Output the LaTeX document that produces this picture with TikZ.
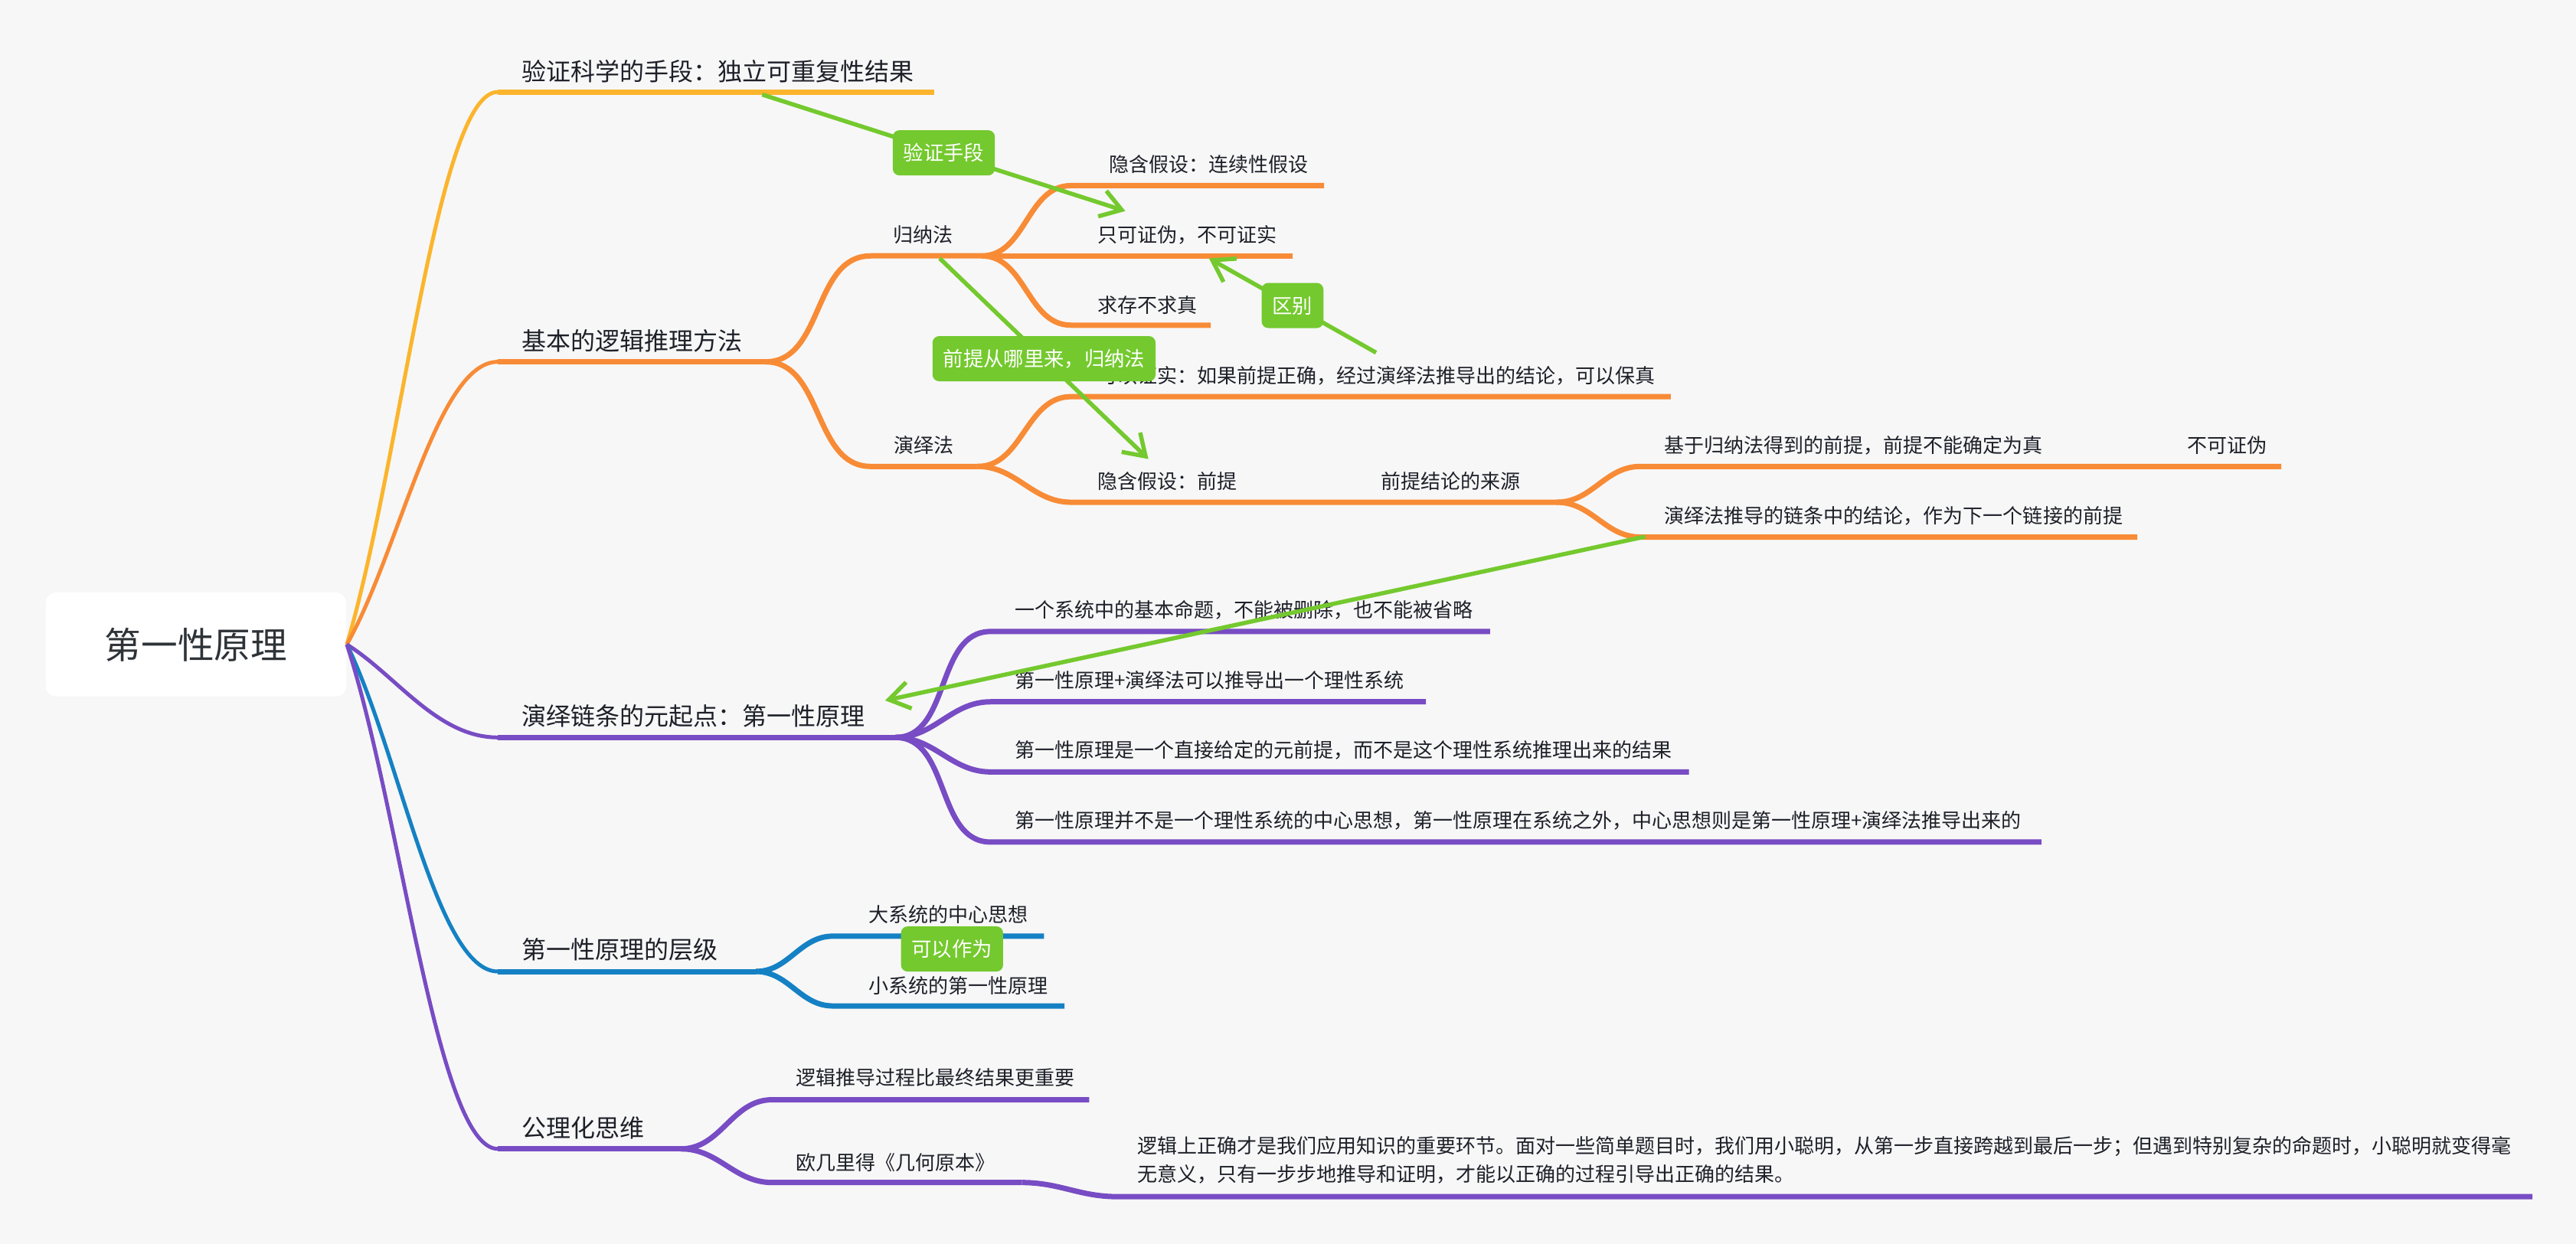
\documentclass[tikz,border=0pt]{standalone}
\usepackage{fontspec}
\setmainfont{Noto Sans CJK SC}
\usetikzlibrary{arrows.meta}
\definecolor{bg}{HTML}{F7F7F7}
\definecolor{cyel}{HTML}{FBB52D}
\definecolor{cora}{HTML}{F88B36}
\definecolor{cpur}{HTML}{784CC4}
\definecolor{cblu}{HTML}{1581C4}
\definecolor{cgrn}{HTML}{74C92E}
\definecolor{ctxt}{HTML}{1E2029}
\definecolor{croot}{HTML}{2E3338}
\newcommand\fsmall{\fontsize{7.8pt}{11pt}\selectfont}
\newcommand\fmainsz{\fontsize{9.6pt}{12pt}\selectfont}
\newcommand\frootsz{\fontsize{14.3pt}{17pt}\selectfont}
\newcommand\flbl{\fontsize{7.9pt}{10pt}\selectfont}
\begin{document}
\begin{tikzpicture}[x=0.64362pt,y=-0.64362pt,
  sm/.style={anchor=west, inner sep=0pt, text height=6.86pt, text depth=0.94pt, text=ctxt, font=\fsmall},
  mn/.style={anchor=west, inner sep=0pt, text height=8.45pt, text depth=1.15pt, text=ctxt, font=\fmainsz},
  br/.style={line width=1.5pt},
  ul/.style={line width=2.1pt},
  rel/.style={cgrn, line width=1.65pt, -{Straight Barb[length=8pt,width=10.5pt]}},
  lbl/.style={fill=cgrn, text=white, rounded corners=2.6pt, inner xsep=4.2pt, inner ysep=0pt,
              minimum height=17.7pt, text height=6.95pt, text depth=0.95pt, font=\flbl},
  sub/.style={out=0,in=180}]
\fill[bg] (0,0) rectangle (1568,757.43);
\useasboundingbox (0,0) rectangle (1568,757.43);

% root
\node[fill=white, rounded corners=4pt, minimum width=117.8pt, minimum height=40.6pt, inner sep=0pt,
      font=\frootsz, text=croot, text height=12.6pt, text depth=1.7pt] (root) at (119.3,392.4) {第一性原理};

% underline coordinates
\coordinate (b1s) at (303,56);     \coordinate (b1e) at (568.7,56);
\coordinate (b2s) at (303,220.3);  \coordinate (b2e) at (466,220.3);
\coordinate (b3s) at (303,449);    \coordinate (b3e) at (545,449);
\coordinate (b4s) at (303,591.5);  \coordinate (b4e) at (460,591.5);
\coordinate (b5s) at (303,699.5);  \coordinate (b5e) at (414.5,699.5);
\coordinate (c1s) at (530,155.8);  \coordinate (c1e) at (597.5,155.8);
\coordinate (c2s) at (530,284);    \coordinate (c2e) at (595,284);
\coordinate (g1s) at (652,113);    \coordinate (g1e) at (806,113);
\coordinate (g2e) at (787,155.8);
\coordinate (g3s) at (652,198);    \coordinate (g3e) at (737,198);
\coordinate (d1s) at (652,241.5);  \coordinate (d1e) at (1017,241.5);
\coordinate (d2s) at (652,305.8);  \coordinate (d2e) at (823,305.8);
\coordinate (d3e) at (947.6,305.8);
\coordinate (e1s) at (998.5,284);  \coordinate (e1e) at (1253,284);
\coordinate (e3e) at (1388.6,284);
\coordinate (e2s) at (998.5,327);  \coordinate (e2e) at (1301,327);
\coordinate (p1s) at (603,384.5);  \coordinate (p1e) at (907,384.5);
\coordinate (p2s) at (603,427.3);  \coordinate (p2e) at (868,427.3);
\coordinate (p3s) at (603,470);    \coordinate (p3e) at (1028,470);
\coordinate (p4s) at (603,512.7);  \coordinate (p4e) at (1242.6,512.7);
\coordinate (l1s) at (507,570);    \coordinate (l1e) at (635.5,570);
\coordinate (l2s) at (507,612.5);  \coordinate (l2e) at (648,612.5);
\coordinate (a1s) at (470,669.6);  \coordinate (a1e) at (663,669.6);
\coordinate (a2s) at (470,720);    \coordinate (a2e) at (622,720);
\coordinate (a3s) at (680,728.6);  \coordinate (a3e) at (1541.5,728.6);

% root branches
\draw[cyel,br] (root.east) .. controls +(33,-111) and +(-37,0) .. (b1s);
\draw[cyel,ul] (b1s) -- (b1e);
\draw[cora,br] (root.east) .. controls +(32,-56.8) and +(-37,0) .. (b2s);
\draw[cora,ul] (b2s) -- (b2e);
\draw[cpur,br] (root.east) .. controls +(30,18.7) and +(-37,0) .. (b3s);
\draw[cpur,ul] (b3s) -- (b3e);
\draw[cblu,br] (root.east) .. controls +(32,65.7) and +(-37,0) .. (b4s);
\draw[cblu,ul] (b4s) -- (b4e);
\draw[cpur,br] (root.east) .. controls +(33,101.3) and +(-37,0) .. (b5s);
\draw[cpur,ul] (b5s) -- (b5e);

% orange sub-branches
\draw[cora,ul] (b2e) to[sub] (c1s) -- (c1e);
\draw[cora,ul] (b2e) to[sub] (c2s) -- (c2e);
\draw[cora,ul] (c1e) to[sub] (g1s) -- (g1e);
\draw[cora,ul] (c1e) -- (g2e);
\draw[cora,ul] (c1e) to[sub] (g3s) -- (g3e);
\draw[cora,ul] (c2e) to[sub] (d1s) -- (d1e);
\draw[cora,ul] (c2e) to[sub] (d2s) -- (d2e) -- (d3e);
\draw[cora,ul] (d3e) to[sub] (e1s) -- (e1e) -- (e3e);
\draw[cora,ul] (d3e) to[sub] (e2s) -- (e2e);

% purple sub-branches
\draw[cpur,ul] (b3e) to[sub] (p1s) -- (p1e);
\draw[cpur,ul] (b3e) to[sub] (p2s) -- (p2e);
\draw[cpur,ul] (b3e) to[sub] (p3s) -- (p3e);
\draw[cpur,ul] (b3e) to[sub] (p4s) -- (p4e);

% blue sub-branches
\draw[cblu,ul] (b4e) to[sub] (l1s) -- (l1e);
\draw[cblu,ul] (b4e) to[sub] (l2s) -- (l2e);

% axiom sub-branches
\draw[cpur,ul] (b5e) to[sub] (a1s) -- (a1e);
\draw[cpur,ul] (b5e) to[sub] (a2s) -- (a2e);
\draw[cpur,ul] (a2e) to[sub] (a3s) -- (a3e);

% texts
\node[mn] (b1) at (317.5,43.5) {验证科学的手段：独立可重复性结果};
\node[mn] (b2) at (317.5,207.7) {基本的逻辑推理方法};
\node[mn] (b3) at (317.5,436) {演绎链条的元起点：第一性原理};
\node[mn] (b4) at (317.5,578) {第一性原理的层级};
\node[mn] (b5) at (317.5,686.6) {公理化思维};

\node[sm] (c1) at (543.5,143) {归纳法};
\node[sm] (c2) at (544,271) {演绎法};
\node[sm] (g1) at (675,100) {隐含假设：连续性假设};
\node[sm] (g2) at (668,143) {只可证伪，不可证实};
\node[sm] (g3) at (668,186) {求存不求真};
\node[sm] (d1) at (668,228.7) {可以证实：如果前提正确，经过演绎法推导出的结论，可以保真};
\node[sm] (d2) at (668,292.8) {隐含假设：前提};
\node[sm] (d3) at (840.5,292.8) {前提结论的来源};
\node[sm] (e1) at (1013,271.3) {基于归纳法得到的前提，前提不能确定为真};
\node[sm] (e3) at (1331,271.3) {不可证伪};
\node[sm] (e2) at (1013,314.2) {演绎法推导的链条中的结论，作为下一个链接的前提};
\node[sm] (p1) at (617.4,371.4) {一个系统中的基本命题，不能被删除，也不能被省略};
\node[sm] (p2) at (617.4,414) {第一性原理+演绎法可以推导出一个理性系统};
\node[sm] (p3) at (617.4,456.8) {第一性原理是一个直接给定的元前提，而不是这个理性系统推理出来的结果};
\node[sm] (p4) at (617.4,499.6) {第一性原理并不是一个理性系统的中心思想，第一性原理在系统之外，中心思想则是第一性原理+演绎法推导出来的};
\node[sm] (l1) at (528.3,557) {大系统的中心思想};
\node[sm] (l2) at (528.3,600) {小系统的第一性原理};
\node[sm] (a1) at (484,656) {逻辑推导过程比最终结果更重要};
\node[sm] (a2) at (484,707.8) {欧几里得《几何原本》};
\node[anchor=west, inner sep=0pt, align=left, text=ctxt, font=\fsmall] (a3) at (692,706.15)
  {逻辑上正确才是我们应用知识的重要环节。面对一些简单题目时，我们用小聪明，从第一步直接跨越到最后一步；但遇到特别复杂的命题时，小聪明就变得毫\\无意义，只有一步步地推导和证明，才能以正确的过程引导出正确的结果。};

% relationships
\coordinate (r1a) at (464,57.6);    \coordinate (r1b) at (685,128.5);
\coordinate (r2a) at (837.6,214.7); \coordinate (r2b) at (735.9,157.3);
\coordinate (r3a) at (572,157.3);   \coordinate (r3b) at (699,279.5);
\coordinate (r4a) at (1001.5,326.7);\coordinate (r4b) at (538.8,426.5);
\draw[rel] (r1a) -- node[lbl] (lb1) {验证手段} (r1b);
\draw[rel] (r2a) -- node[lbl] (lb2) {区别} (r2b);
\draw[rel] (r3a) -- node[lbl] (lb3) {前提从哪里来，归纳法} (r3b);
\draw[rel] (r4a) -- (r4b);
\node[lbl] (lb4) at (579.5,577.8) {可以作为};
\end{tikzpicture}
\end{document}
